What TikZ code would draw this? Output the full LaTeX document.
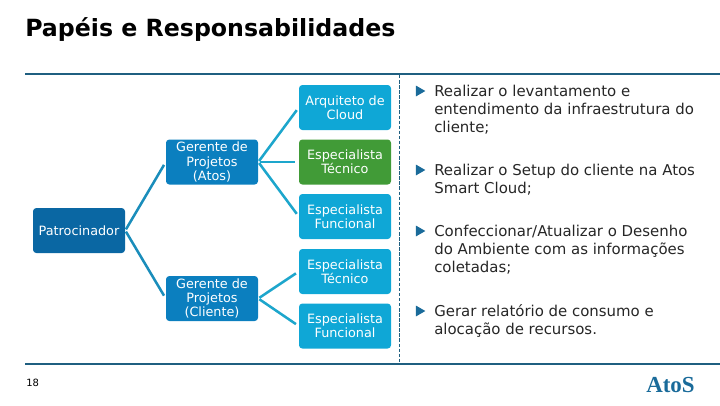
\documentclass[tikz,border=0pt]{standalone}
\usepackage{fontspec}
\setmainfont{DejaVu Sans}
\newfontfamily\logofont{Liberation Serif}
\usetikzlibrary{shapes.geometric}

\definecolor{rulecol}{HTML}{1F5F80}
\definecolor{sponsorcol}{HTML}{0A67A3}
\definecolor{managercol}{HTML}{0B7FBF}
\definecolor{rolecol}{HTML}{0FA7D6}
\definecolor{greencol}{HTML}{419B37}
\definecolor{linkdark}{HTML}{1A8DBB}
\definecolor{linklight}{HTML}{1DA6CC}
\definecolor{textcol}{HTML}{262626}
\definecolor{markcol}{HTML}{1A6B9A}

\tikzset{
  box/.style={rounded corners=2.5pt, minimum width=69pt, minimum height=33.75pt, inner sep=0pt,
    align=center, text=white, font=\fontsize{9.6}{10.6}\selectfont},
  sponsorbox/.style={box, fill=sponsorcol},
  managerbox/.style={box, fill=managercol},
  rolebox/.style={box, fill=rolecol},
  greenbox/.style={box, fill=greencol},
  linkA/.style={draw=linkdark, line width=1.9pt, shorten >=2.5pt, shorten <=1pt},
  linkB/.style={draw=linklight, line width=1.9pt, shorten >=2.5pt, shorten <=1pt},
  bulletmark/.style={regular polygon, regular polygon sides=3, shape border rotate=-90, fill=markcol,
    minimum size=9.5pt, inner sep=0pt},
  bullettext/.style={anchor=north west, inner sep=0pt, align=left, text=textcol,
    font=\fontsize{11.2}{13.5}\selectfont},
}

\begin{document}
\begin{tikzpicture}[x=0.75pt,y=-0.75pt]
  \useasboundingbox (0,0) rectangle (720,405);

  \node[anchor=base west, inner sep=0pt, font=\fontsize{17.75}{20}\selectfont\bfseries] (title) at (25,36.5) {Papéis e Responsabilidades};

  \coordinate (topleft) at (25,74);
  \coordinate (topright) at (720,74);
  \coordinate (botleft) at (25,364);
  \coordinate (botright) at (720,364);
  \coordinate (dashtop) at (399.5,75);
  \coordinate (dashbot) at (399.5,364);
  \draw[rulecol, line width=1.5pt] (topleft) -- (topright);
  \draw[rulecol, line width=1.5pt] (botleft) -- (botright);
  \draw[rulecol, line width=0.6pt, dash pattern=on 2.6pt off 1.2pt] (dashtop) -- (dashbot);

  \node[sponsorbox] (sponsor) at (79,230.5) {Patrocinador};
  \node[managerbox] (atos) at (212,162) {Gerente de\\Projetos\\(Atos)};
  \node[managerbox] (client) at (212,298.5) {Gerente de\\Projetos\\(Cliente)};

  \node[rolebox] (arch) at (345,107.5) {Arquiteto de\\Cloud};
  \node[greenbox] (tech) at (345,162) {Especialista\\Técnico};
  \node[rolebox] (func) at (345,216.5) {Especialista\\Funcional};
  \node[rolebox] (techb) at (345,271.5) {Especialista\\Técnico};
  \node[rolebox] (funcb) at (345,326) {Especialista\\Funcional};

  \foreach \to in {atos,client}{
    \draw[linkA] (sponsor.east) -- (\to.west);
  }
  \foreach \to in {arch,tech,func}{
    \draw[linkB] (atos.east) -- (\to.west);
  }
  \foreach \to in {techb,funcb}{
    \draw[linkB] (client.east) -- (\to.west);
  }

  \foreach \y/\name/\body in {
    91/a/{Realizar o levantamento e\\entendimento da infraestrutura do\\cliente;},
    170/b/{Realizar o Setup do cliente na Atos\\Smart Cloud;},
    231/c/{Confeccionar/Atualizar o Desenho\\do Ambiente com as informações\\coletadas;},
    311/d/{Gerar relatório de consumo e\\alocação de recursos.}}{
    \node[bulletmark] (mark\name) at (419,\y) {};
    \node[bullettext] (item\name) at (434,\y-6.5) {\body};
  }

  \node[anchor=base west, inner sep=0pt, font=\fontsize{7.5}{8}\selectfont] (page) at (26,386) {18};
  \node[anchor=base west, inner sep=0pt, text=markcol, font=\logofont\bfseries\fontsize{17.2}{17}\selectfont] (logo) at (646,392.5) {AtoS};
\end{tikzpicture}
\end{document}
